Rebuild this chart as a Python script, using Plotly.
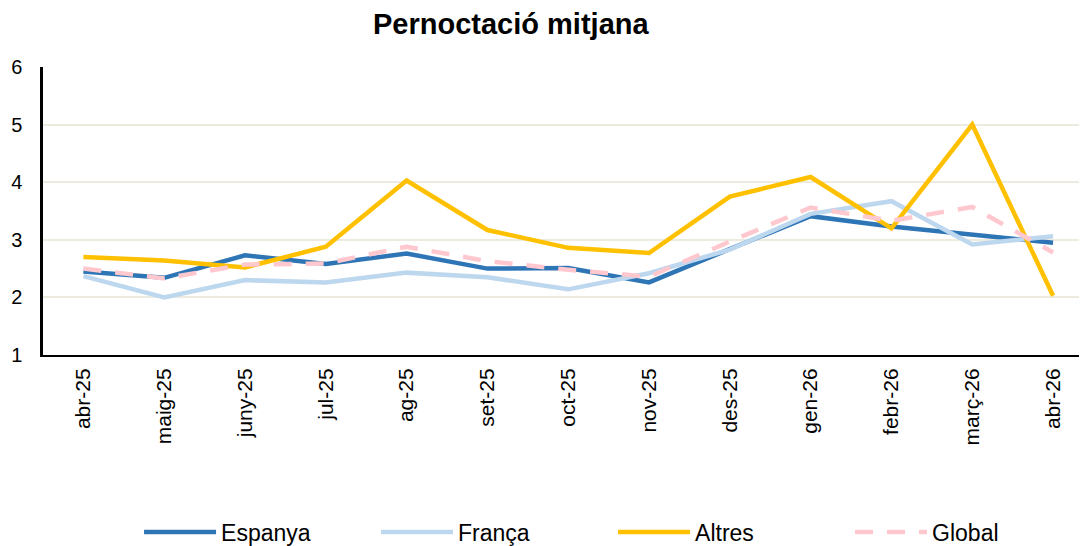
import plotly.graph_objects as go

months = ["abr-25", "maig-25", "juny-25", "jul-25", "ag-25", "set-25", "oct-25",
          "nov-25", "des-25", "gen-26", "febr-26", "març-26", "abr-26"]
espanya = [2.45, 2.34, 2.73, 2.58, 2.76, 2.50, 2.51, 2.26, 2.84, 3.41, 3.23, 3.09, 2.95]
franca = [2.37, 2.00, 2.30, 2.26, 2.43, 2.35, 2.14, 2.42, 2.83, 3.45, 3.67, 2.92, 3.06]
altres = [2.70, 2.64, 2.52, 2.88, 4.03, 3.17, 2.86, 2.77, 3.75, 4.09, 3.20, 5.00, 2.03]
global_ = [2.50, 2.33, 2.57, 2.59, 2.88, 2.63, 2.48, 2.36, 2.97, 3.56, 3.33, 3.57, 2.78]

series = [
    ("Espanya", espanya, "#2E75B6", "solid"),
    ("França", franca, "#BDD7EE", "solid"),
    ("Altres", altres, "#FFC000", "solid"),
    ("Global", global_, "#FFC7CE", "18px,14px"),
]

fig = go.Figure()
for name, vals, color, dash in series:
    fig.add_trace(go.Scatter(
        x=list(range(len(months))), y=vals, name=name, mode="lines",
        line=dict(color=color, width=4.5, dash=dash),
    ))

font_family = "Liberation Sans, Arial, sans-serif"
fig.update_layout(
    width=1079, height=538,
    margin=dict(l=35, r=0, t=59, b=191, autoexpand=False),
    paper_bgcolor="white", plot_bgcolor="white",
    font=dict(family=font_family, size=20, color="black"),
    title=dict(text="<b>Pernoctació mitjana</b>", x=0.466, xanchor="center",
               y=0.97, yanchor="middle", font=dict(size=29, color="black")),
    showlegend=True,
    legend=dict(orientation="h", x=0.092, xanchor="left", y=-0.615, yanchor="middle",
                font=dict(size=23), itemwidth=72, entrywidth=150, entrywidthmode="pixels",
                traceorder="normal"),
    xaxis=dict(
        range=[-0.5, 12.42], automargin=False,
        tickmode="array", tickvals=list(range(len(months))), ticktext=months,
        tickangle=-90, showgrid=False, zeroline=False, showline=True,
        linecolor="black", linewidth=2,
        ticks="", tickfont=dict(size=21), ticklabelstandoff=3,
    ),
    yaxis=dict(
        range=[1, 6], dtick=1, showgrid=True, gridcolor="#EDEBE0", gridwidth=2,
        zeroline=False, showline=True, linecolor="black", linewidth=2.5,
        automargin=False,
        ticks="", tickfont=dict(size=20), ticklabelstandoff=14,
    ),
)

fig.write_html("out.html")
